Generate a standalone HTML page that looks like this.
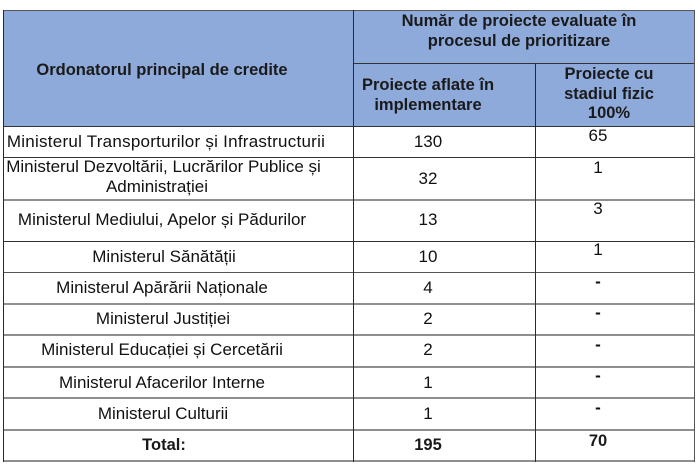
<!DOCTYPE html>
<html>
<head>
<meta charset="utf-8">
<style>
  html, body { margin:0; padding:0; }
  body { width:698px; height:468px; background:#ffffff; position:relative; overflow:hidden;
         font-family:"Liberation Sans", Arial, sans-serif; color:#111; }
  .bg { position:absolute; left:3px; top:10px; width:691px; height:117px; background:#8eaadb; }
  .h { position:absolute; height:1px; background:#333; }
  .hg { position:absolute; height:2px; background:#8f8f8f; }
  .v { position:absolute; width:1px; background:#2a2a2a; }
  .r, .b { position:absolute; width:400px; text-align:center; white-space:nowrap; line-height:20px; }
  .r { font-size:17px; }
  .b { font-size:16.5px; font-weight:bold; color:#1a1a1a; }
</style>
</head>
<body>
  <div class="bg"></div>

  <!-- horizontal lines -->
  <div class="h" style="left:3px; top:10px; width:692px; background:#555;"></div>
  <div class="h" style="left:353px; top:63px; width:342px;"></div>
  <div class="h" style="left:3px; top:126px; width:692px;"></div>
  <div class="h" style="left:3px; top:157px; width:692px;"></div>
  <div class="hg" style="left:3px; top:199px; width:692px;"></div>
  <div class="h" style="left:3px; top:241px; width:692px;"></div>
  <div class="h" style="left:3px; top:272px; width:692px; background:#555;"></div>
  <div class="hg" style="left:3px; top:303px; width:692px;"></div>
  <div class="hg" style="left:3px; top:334px; width:692px;"></div>
  <div class="hg" style="left:3px; top:366px; width:692px;"></div>
  <div class="hg" style="left:3px; top:397px; width:692px;"></div>
  <div class="hg" style="left:3px; top:429px; width:692px;"></div>
  <div class="hg" style="left:3px; top:460px; width:692px;"></div>

  <!-- vertical lines -->
  <div class="v" style="left:3px; top:10px; height:452px;"></div>
  <div class="v" style="left:353px; top:10px; height:452px;"></div>
  <div class="v" style="left:535px; top:63px; height:399px;"></div>
  <div class="v" style="left:694px; top:10px; height:452px; background:#555;"></div>

  <!-- header text -->
  <div class="b" style="left:319px; top:11px;">Număr de proiecte evaluate în</div>
  <div class="b" style="left:319px; top:31px;">procesul de prioritizare</div>
  <div class="b" style="left:-38px; top:60px;">Ordonatorul principal de credite</div>
  <div class="b" style="left:228px; top:75px;">Proiecte aflate în</div>
  <div class="b" style="left:228px; top:95px;">implementare</div>
  <div class="b" style="left:409px; top:64px;">Proiecte cu</div>
  <div class="b" style="left:409px; top:84px;">stadiul fizic</div>
  <div class="b" style="left:409px; top:103px;">100%</div>

  <!-- column 1 -->
  <div class="r" style="left:-34px; top:132px; letter-spacing:0.25px;">Ministerul Transporturilor și Infrastructurii</div>
  <div class="r" style="left:-36.5px; top:157px;">Ministerul Dezvoltării, Lucrărilor Publice și</div>
  <div class="r" style="left:-43px; top:177px;">Administrației</div>
  <div class="r" style="left:-38px; top:209.5px;">Ministerul Mediului, Apelor și Pădurilor</div>
  <div class="r" style="left:-36px; top:247px;">Ministerul Sănătății</div>
  <div class="r" style="left:-38px; top:278px;">Ministerul Apărării Naționale</div>
  <div class="r" style="left:-37px; top:308.5px;">Ministerul Justiției</div>
  <div class="r" style="left:-38px; top:340px;">Ministerul Educației și Cercetării</div>
  <div class="r" style="left:-38px; top:372.5px;">Ministerul Afacerilor Interne</div>
  <div class="r" style="left:-37px; top:404px;">Ministerul Culturii</div>
  <div class="b" style="left:-36px; top:435px;">Total:</div>

  <!-- column 2 -->
  <div class="r" style="left:228px; top:132px;">130</div>
  <div class="r" style="left:228px; top:168.5px;">32</div>
  <div class="r" style="left:228px; top:209.5px;">13</div>
  <div class="r" style="left:228px; top:247px;">10</div>
  <div class="r" style="left:228px; top:278px;">4</div>
  <div class="r" style="left:228px; top:308.5px;">2</div>
  <div class="r" style="left:228px; top:340px;">2</div>
  <div class="r" style="left:228px; top:372.5px;">1</div>
  <div class="r" style="left:228px; top:404px;">1</div>
  <div class="b" style="left:228px; top:435px;">195</div>

  <!-- column 3 -->
  <div class="r" style="left:398px; top:125.5px;">65</div>
  <div class="r" style="left:398px; top:157.5px;">1</div>
  <div class="r" style="left:398px; top:199px;">3</div>
  <div class="r" style="left:398px; top:240px;">1</div>
  <div class="r" style="left:398px; top:271.5px; font-weight:bold;">-</div>
  <div class="r" style="left:398px; top:303px; font-weight:bold;">-</div>
  <div class="r" style="left:398px; top:334.5px; font-weight:bold;">-</div>
  <div class="r" style="left:398px; top:366px; font-weight:bold;">-</div>
  <div class="r" style="left:398px; top:397.5px; font-weight:bold;">-</div>
  <div class="b" style="left:398px; top:431px;">70</div>
</body>
</html>
